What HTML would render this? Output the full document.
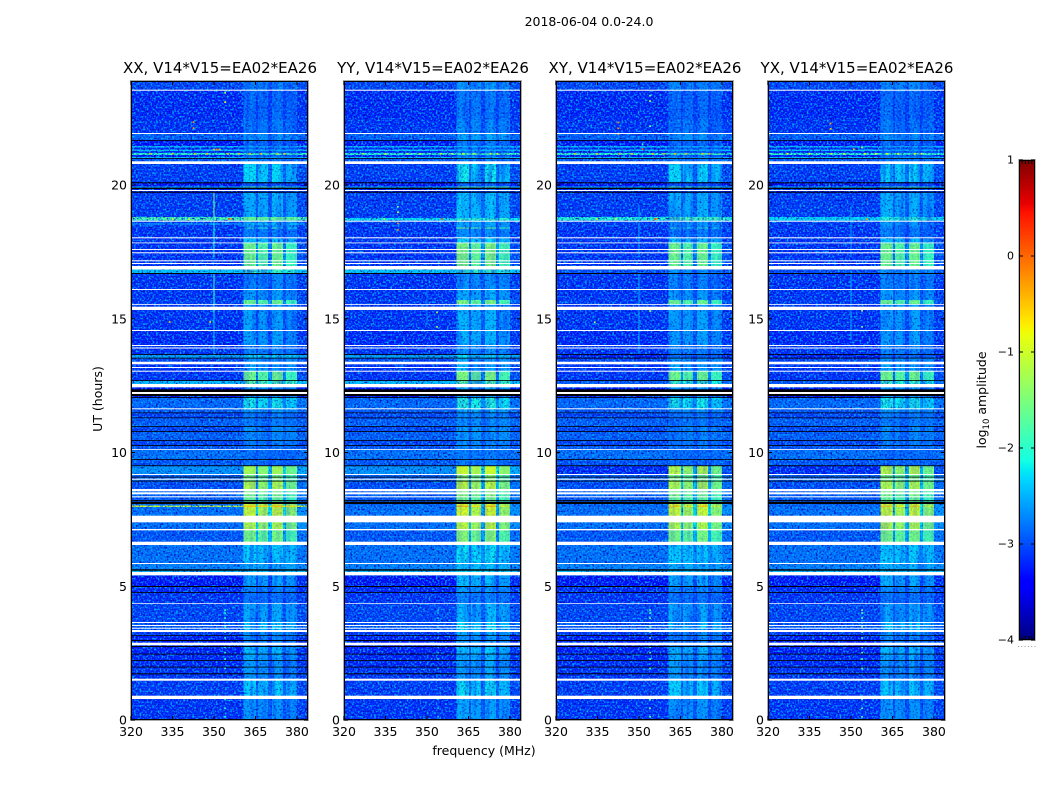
<!DOCTYPE html>
<html lang="en">
<head>
<meta charset="utf-8">
<title>2018-06-04 amplitude waterfall</title>
<style>
html,body{margin:0;padding:0;background:#fff;width:1050px;height:800px;overflow:hidden}
svg{display:block}
text{font-family:"DejaVu Sans","Liberation Sans",sans-serif;fill:#000}
</style>
</head>
<body>
<svg id="fig" width="1050" height="800" viewBox="0 0 1050 800" xmlns="http://www.w3.org/2000/svg">
  <defs>
    <filter id="speckle" x="0" y="0" width="100%" height="100%" color-interpolation-filters="sRGB">
      <feTurbulence type="fractalNoise" baseFrequency="0.55" numOctaves="1" seed="7" result="n"/>
      <feColorMatrix in="n" result="bright" values="0 0 0 0 0  0 0 0 0 .68  0 0 0 0 1  4 0 0 0 -1.9"/>
      <feColorMatrix in="n" result="dark" values="0 0 0 0 0  0 0 0 0 .05  0 0 0 0 .7  0 4 0 0 -2"/>
      <feMerge><feMergeNode in="dark"/><feMergeNode in="bright"/></feMerge>
    </filter>
    <filter id="streaks" x="0" y="0" width="100%" height="100%" color-interpolation-filters="sRGB">
      <feTurbulence type="fractalNoise" baseFrequency="0.22 0.02" numOctaves="2" seed="11" result="s"/>
      <feColorMatrix in="s" values="0 0 0 0 0  0 0 0 0 .15  0 0 0 0 1  3 0 0 0 -1.3"/>
    </filter>
  </defs>
  <rect width="1050" height="800" fill="#fff"/>
  <text x="589" y="26" text-anchor="middle" font-size="12.5">2018-06-04 0.0-24.0</text>
  <g id="panel-0"></g>
  <g id="panel-1"></g>
  <g id="panel-2"></g>
  <g id="panel-3"></g>
  <text x="220" y="73" text-anchor="middle" font-size="15">XX, V14*V15=EA02*EA26</text>
  <text x="433" y="73" text-anchor="middle" font-size="15">YY, V14*V15=EA02*EA26</text>
  <text x="645" y="73" text-anchor="middle" font-size="15">XY, V14*V15=EA02*EA26</text>
  <text x="857" y="73" text-anchor="middle" font-size="15">YX, V14*V15=EA02*EA26</text>
  <text x="484" y="755" text-anchor="middle" font-size="12.5">frequency (MHz)</text>
  <text transform="translate(102 399) rotate(-90)" text-anchor="middle" font-size="12.5">UT (hours)</text>
  <g id="colorbar"></g>
  <text transform="translate(986 400) rotate(-90)" text-anchor="middle" font-size="12.5">log<tspan font-size="8.5" dy="3">10</tspan><tspan dy="-3"> amplitude</tspan></text>
</svg>
<script>
// ---------- axis tick values ----------
const freqTicks = [320, 335, 350, 365, 380];
const hourTicks = [0, 5, 10, 15, 20];
const colorTicks = [-4, -3, -2, -1, 0, 1];

// ---------- frequency structure (MHz) ----------
const freqEdges = [320, 360.6, 365.2, 366, 369.5, 371, 374.9, 376, 380, 384];
const freqPatchWeight = [0, 1, 0.35, 0.9, 0.35, 1, 0.35, 0.8, 0.1];

// ---------- time bands: top hour, log10 amplitude below 360 MHz, log10 amplitude in the 361-380 MHz patch ----------
const bandTop = [23.9,23.53,22.44,21.94,21.66,21.45,21.4,21.32,21.28,21.2,21.13,21.05,21.0,20.78,20.12,19.95,19.9,19.71,18.8,18.63,18.45,18.0,17.85,16.97,16.67,16.08,15.7,15.55,14.54,13.98,13.65,13.54,13.3,13.02,12.68,12.43,12.04,11.61,11.47,11.28,10.96,10.77,10.44,10.25,10.1,9.73,9.49,9.16,8.92,8.64,8.33,8.07,8.02,7.96,7.39,7.09,6.54,5.83,5.58,5.41,4.97,4.75,4.33,3.66,3.29,3.14,2.73,2.45,2.21,1.96,1.47,0.785];
const bandBase = [-3.1,-3.25,-3.2,-2.95,-3.35,-2.4,-3.3,-2.35,-3.2,-1.95,-3.3,-2.4,-3.0,-3.15,-3.4,-2.4,-3.3,-3.15,-3.1,-3.15,-3.2,-3.2,-3.2,-3.05,-3.2,-3.2,-3.15,-3.2,-3.25,-3.2,-3.3,-3.1,-3.2,-3.2,-3.0,-3.4,-2.9,-3.0,-3.1,-2.95,-3.1,-2.95,-3.1,-3.0,-2.85,-3.0,-3.25,-2.95,-3.05,-2.95,-3.0,-2.9,-2.9,-2.85,-2.85,-3.0,-2.85,-2.75,-2.4,-3.35,-3.25,-3.2,-3.1,-3.0,-3.15,-3.3,-3.3,-3.25,-3.25,-3.2,-3.15,-3.2];
const bandPatch = [-2.7,-2.85,-2.75,-2.6,-2.85,-2.5,-2.9,-2.5,-2.85,-1.9,-2.85,-2.6,-2.75,-2.25,-3.0,-1.7,-3.0,-2.45,-2.45,-2.6,-2.75,-2.35,-1.55,-2.6,-2.7,-2.55,-1.55,-2.55,-2.55,-2.7,-2.85,-2.6,-2.5,-1.55,-1.9,-2.6,-2.1,-2.6,-2.75,-2.75,-2.65,-2.7,-2.75,-2.8,-2.85,-2.85,-1.1,-1.5,-1.15,-1.5,-1.6,-0.95,-0.55,-1.0,-1.15,-1.5,-2.3,-2.45,-2.3,-2.5,-2.7,-2.8,-2.5,-2.3,-2.6,-2.7,-2.4,-2.5,-2.6,-2.6,-2.3,-2.6];
const panelPatchOffset = [0, 0.1, 0, 0];

// ---------- panel-specific rows: panel index, top hour, bottom hour, base, patch ----------
const panelRows = [
  [0,18.8,18.67,-1.75,-1.6],[1,18.76,18.67,-2.2,-1.9],[2,18.8,18.67,-2.0,-1.8],[3,18.8,18.67,-2.25,-2.0],
  [0,18.56,18.52,-2.4,-2.2],[1,18.41,18.37,-3.2,-1.5],[0,18.41,18.37,-3.2,-1.9],[2,18.41,18.37,-3.2,-1.9],
  [0,16.84,16.7,-2.35,-1.9],[1,16.84,16.7,-2.35,-1.9],
  [0,13.65,13.54,-2.55,-2.2],[1,13.65,13.54,-2.55,-2.2],
  [0,12.68,12.56,-2.4,-1.7],[1,12.68,12.56,-2.4,-1.7],
  [0,9.49,9.2,-2.65,-1.3],[1,9.49,9.2,-2.65,-1.0],
  [0,8.02,7.96,-0.95,-0.5]
];

// ---------- flagged rows (hours) ----------
const whiteFlags = [[23.563,23.525],[21.944,21.907],[20.886,20.785],[19.813,19.776],[18.666,18.628],[18.045,18.007],[17.85,17.82],[17.607,17.57],[17.484,17.447],[17.185,17.148],[17.084,17.047],[16.972,16.841],[16.112,16.075],[15.551,15.521],[15.45,15.327],[14.579,14.542],[14.019,13.981],[13.925,13.888],[13.394,13.297],[13.196,13.159],[13.058,13.021],[12.561,12.437],[12.262,12.187],[11.652,11.615],[10.131,10.101],[9.196,9.159],[9.021,8.983],[8.636,8.55],[8.512,8.437],[8.363,8.325],[7.637,7.39],[7.14,7.09],[6.665,6.542],[5.869,5.832],[5.533,5.409],[4.363,4.336],[3.664,3.626],[3.551,3.514],[3.45,3.413],[3.364,3.29],[2.89,2.793],[1.544,1.469],[0.908,0.785]];
const blackFlags = [[21.682,21.652],[21.009,20.98],[20.101,20.064],[19.899,19.85],[19.75,19.712],[16.71,16.673],[13.682,13.652],[13.544,13.514],[12.71,12.68],[12.363,12.262],[12.187,12.112],[12.075,12.045],[11.495,11.469],[11.308,11.282],[10.99,10.961],[10.804,10.774],[10.467,10.437],[10.28,10.25],[9.757,9.727],[9.521,9.488],[9.095,9.065],[8.946,8.916],[8.224,8.194],[8.161,8.075],[5.634,5.581],[5.009,4.972],[4.785,4.755],[3.166,3.14],[2.991,2.953],[2.766,2.729],[2.479,2.449],[2.243,2.213],[1.993,1.963],[1.746,1.708]];

// ---------- narrow interference: panel index, MHz, top hour, bottom hour, level ----------
const vertical350 = [
  [0,350,19.71,18.8,-1.5],[0,350,18.6,17.3,-2.1],[0,350,16.67,15.2,-1.9],[0,350,15.2,13.6,-2.4],
  [1,350,16.2,14.8,-2.75],
  [2,350,19.2,18.7,-2.5],[2,350,18.6,17.3,-2.55],[2,350,16.67,13.7,-2.5],
  [3,350,19.2,18.7,-2.55],[3,350,18.6,17.3,-2.6],[3,350,16.67,14.2,-2.55]
];
const dots354Hours = [4.11,4.0,3.81,3.64,3.49,3.29,3.07,2.73,2.52,2.28,1.93,0.77,0.44,0.12];
const dots354Level = [-2.0, -2.4, -1.7, -1.6];
const rfi2120Freqs = [327,335,343,347.5,355,359,363,367,373,375.5];
const rfi2120Level = [-0.5, -1.0, -0.4, -0.8];
const hotSpots = [
  [0,351,21.33,-0.2],[0,350,21.33,-0.5],[0,352,21.33,-0.5],[0,355.5,18.73,0.1],[0,356,18.73,-0.3],[0,335,18.73,-1.0],[0,341,18.73,-1.0],
  [0,342.6,22.35,-0.2],[0,342.6,22.13,-0.2],[0,354,23.45,-1.3],[0,354,23.1,-1.0],[0,334,14.88,-0.3],[0,348.6,14.88,-0.6],
  [1,355.4,18.73,0.2],[1,339.5,19.19,-1.3],[1,339.5,18.98,-1.0],[1,339.5,18.57,-0.2],[1,339.5,18.32,-0.2],[1,334.5,18.73,-1.0],[1,353.6,15.24,-1.2],[1,353.6,14.7,-1.2],
  [2,355.8,18.73,0.2],[2,356.4,18.73,-0.3],[2,334.7,18.73,-0.9],[2,341.6,18.73,-1.0],[2,342.5,22.34,-0.2],[2,342.5,22.12,-0.2],[2,342.5,21.9,-0.2],
  [2,354,23.34,-1.5],[2,354,23.14,-0.9],[2,354,22.2,-1.5],[2,351.3,21.53,-1.8],[2,351.3,21.34,0],[2,334,14.87,-1.2],[2,354,15.29,-1.2],
  [3,342.6,22.3,-0.4],[3,342.6,22.1,-0.4],[3,355.8,18.73,-0.3],[3,354,15.3,-1.2],[3,354,14.7,-1.4],[3,354,21.4,-1.2],[3,351,21.34,-0.4]
];

// ---------- scales ----------
const panelLeft = [131, 344, 556, 768];
const panelWidth = 177;
const freqMin = 320, freqMax = 384;
const plotBottom = 720, pixelsPerHour = 26.75, plotTop = 81;
const xScale = (p, mhz) => panelLeft[p] + (mhz - freqMin) / (freqMax - freqMin) * panelWidth;
const yScale = h => plotBottom - h * pixelsPerHour;

function lerp(stops, t) {
  for (let i = 1; i < stops.length; i++) {
    if (t <= stops[i][0]) {
      const a = stops[i - 1], b = stops[i];
      return a[1] + (b[1] - a[1]) * (t - a[0]) / (b[0] - a[0]);
    }
  }
  return stops[stops.length - 1][1];
}
const jetR = [[0,0],[0.35,0],[0.66,1],[0.89,1],[1,0.5]];
const jetG = [[0,0],[0.125,0],[0.375,1],[0.64,1],[0.91,0],[1,0]];
const jetB = [[0,0.5],[0.11,1],[0.34,1],[0.65,0],[1,0]];
function jet(level) {
  const t = Math.max(0, Math.min(1, (level + 4) / 5));
  return 'rgb(' + Math.round(255 * lerp(jetR, t)) + ',' + Math.round(255 * lerp(jetG, t)) + ',' + Math.round(255 * lerp(jetB, t)) + ')';
}

const NS = 'http://www.w3.org/2000/svg';
function make(parent, tag, geometry) {
  const el = document.createElementNS(NS, tag);
  for (const k in geometry) el.setAttribute(k, geometry[k]);
  parent.appendChild(el);
  return el;
}
function fillBand(g, p, top, bottom, base, patch) {
  for (let f = 0; f < freqPatchWeight.length; f++) {
    const x0 = xScale(p, freqEdges[f]), x1 = xScale(p, freqEdges[f + 1]);
    const level = base + (patch - base) * freqPatchWeight[f];
    const cell = make(g, 'rect', {x: x0, y: yScale(top), width: x1 - x0, height: yScale(bottom) - yScale(top), fill: jet(level), 'shape-rendering': 'crispEdges'});
    
    
  }
}
// bright rows read as nearly solid blocks: repaint their patch columns over the textures
function smoothBright(g, p, top, bottom, base, patch) {
  if (patch <= -1.7) return;
  for (let f = 0; f < freqPatchWeight.length; f++) {
    if (freqPatchWeight[f] < 0.8) continue;
    const x0 = xScale(p, freqEdges[f]), x1 = xScale(p, freqEdges[f + 1]);
    const level = base + (patch - base) * freqPatchWeight[f];
    const cell = make(g, 'rect', {x: x0, y: yScale(top), width: x1 - x0, height: yScale(bottom) - yScale(top), fill: jet(level), opacity: 0.6, 'shape-rendering': 'crispEdges'});
    
    
  }
}
function drawSpot(g, p, mhz, hour, level) {
  const spot = make(g, 'rect', {x: xScale(p, mhz) - 0.8, y: yScale(hour) - 0.8, width: 1.7, height: 1.7, fill: jet(level)});
  
  
}

for (let p = 0; p < panelLeft.length; p++) {
  const g = document.getElementById('panel-' + p);
  // heat map bands
  for (let b = 0; b < bandTop.length; b++) {
    const bottom = b + 1 < bandTop.length ? bandTop[b + 1] : 0;
    fillBand(g, p, bandTop[b], bottom, bandBase[b], bandPatch[b] + panelPatchOffset[p]);
  }
  panelRows.filter(r => r[0] === p).forEach(r => fillBand(g, p, r[1], r[2], r[3], r[4]));
  // fine-grain textures (decorative)
  const patchX0 = xScale(p, 360.6), patchX1 = xScale(p, 380);
  const streak = make(g, 'rect', {x: patchX0, y: plotTop, width: patchX1 - patchX0, height: plotBottom - plotTop, filter: 'url(#streaks)', opacity: 0.5});
  
  
  const noiseA = make(g, 'rect', {x: panelLeft[p], y: plotTop, width: patchX0 - panelLeft[p], height: plotBottom - plotTop, filter: 'url(#speckle)'});
  
  
  const noiseB = make(g, 'rect', {x: patchX0, y: plotTop, width: patchX1 - patchX0, height: plotBottom - plotTop, filter: 'url(#speckle)', opacity: 0.7});
  
  
  const noiseC = make(g, 'rect', {x: patchX1, y: plotTop, width: panelLeft[p] + panelWidth - patchX1, height: plotBottom - plotTop, filter: 'url(#speckle)'});
  
  
  for (let b = 0; b < bandTop.length; b++) {
    const bottom = b + 1 < bandTop.length ? bandTop[b + 1] : 0;
    smoothBright(g, p, bandTop[b], bottom, bandBase[b], bandPatch[b] + panelPatchOffset[p]);
  }
  panelRows.filter(r => r[0] === p).forEach(r => smoothBright(g, p, r[1], r[2], r[3], r[4]));
  // narrow interference
  vertical350.filter(v => v[0] === p).forEach(v => {
    const line = make(g, 'rect', {x: xScale(p, v[1]) - 0.5, y: yScale(v[2]), width: 1, height: yScale(v[3]) - yScale(v[2]), fill: jet(v[4])});
    
    
  });
  dots354Hours.forEach(h => drawSpot(g, p, 354, h, dots354Level[p]));
  rfi2120Freqs.forEach(m => drawSpot(g, p, m, 21.17, rfi2120Level[p]));
  hotSpots.filter(s => s[0] === p).forEach(s => drawSpot(g, p, s[1], s[2], s[3]));
  // flagged rows
  whiteFlags.forEach(fl => {
    const r = make(g, 'rect', {x: panelLeft[p], y: yScale(fl[0]), width: panelWidth, height: yScale(fl[1]) - yScale(fl[0]), fill: '#fff'});
    
    
  });
  blackFlags.forEach(fl => {
    const r = make(g, 'rect', {x: panelLeft[p], y: yScale(fl[0]), width: panelWidth, height: yScale(fl[1]) - yScale(fl[0]), fill: '#000'});
    
    
  });
  // frame
  const outer = make(g, 'rect', {x: panelLeft[p] - 0.5, y: plotTop - 0.5, width: panelWidth + 1, height: plotBottom - plotTop + 1, fill: 'none', stroke: '#aaa', 'stroke-width': 1});
  
  
  const frame = make(g, 'rect', {x: panelLeft[p] + 0.5, y: plotTop + 0.5, width: panelWidth - 1, height: plotBottom - plotTop - 1, fill: 'none', stroke: '#000', 'stroke-width': 1});
  
  
  // x ticks
  freqTicks.forEach(m => {
    const x = xScale(p, m);
    const t1 = make(g, 'line', {x1: x, x2: x, y1: plotBottom, y2: plotBottom - 4, stroke: '#000'});
    
    
    const t2 = make(g, 'line', {x1: x, x2: x, y1: plotTop, y2: plotTop + 4, stroke: '#000'});
    
    
    const lab = make(g, 'text', {x: x, y: 736, 'text-anchor': 'middle', 'font-size': 12.5});
    lab.textContent = String(m);
    
    
  });
  // y ticks
  hourTicks.forEach(h => {
    const y = yScale(h);
    const t1 = make(g, 'line', {x1: panelLeft[p], x2: panelLeft[p] + 4, y1: y, y2: y, stroke: '#000'});
    
    
    const t2 = make(g, 'line', {x1: panelLeft[p] + panelWidth, x2: panelLeft[p] + panelWidth - 4, y1: y, y2: y, stroke: '#000'});
    
    
    const lab = make(g, 'text', {x: panelLeft[p] - 4, y: y + 4.5, 'text-anchor': 'end', 'font-size': 12.5});
    lab.textContent = String(h);
    
    
  });
}

// ---------- colour bar ----------
const cbar = document.getElementById('colorbar');
const cbLeft = 1019, cbWidth = 16, cbTop = 160, cbBottom = 640;
const cbY = v => cbBottom - (v + 4) / 5 * (cbBottom - cbTop);
for (let v = -4; v < 1; v += 0.02) {
  const s = make(cbar, 'rect', {x: cbLeft, y: cbY(v + 0.02), width: cbWidth, height: cbY(v) - cbY(v + 0.02) + 0.4, fill: jet(v + 0.01)});
  
  
}
const cbShadow = make(cbar, 'rect', {x: cbLeft - 0.5, y: cbTop - 0.5, width: cbWidth + 1, height: cbBottom - cbTop + 1, fill: 'none', stroke: '#bbb'});


const cbFrame = make(cbar, 'rect', {x: cbLeft + 0.5, y: cbTop + 0.5, width: cbWidth - 1, height: cbBottom - cbTop - 1, fill: 'none', stroke: '#000'});


colorTicks.forEach(v => {
  const y = cbY(v);
  const a = make(cbar, 'line', {x1: cbLeft, x2: cbLeft + 4, y1: y, y2: y, stroke: '#000'});
  
  
  const b = make(cbar, 'line', {x1: cbLeft + cbWidth, x2: cbLeft + cbWidth - 4, y1: y, y2: y, stroke: '#000'});
  
  
  const lab = make(cbar, 'text', {x: 1014, y: y + 3.5, 'text-anchor': 'end', 'font-size': 11});
  lab.textContent = String(v).replace('-', '\u2212');
  
  
});
for (let i = 1; i < 5; i++) {
  const x = cbLeft + i * cbWidth / 5;
  const top = make(cbar, 'line', {x1: x, x2: x, y1: cbTop, y2: cbTop + 4, stroke: '#000'});
  
  
  const bot = make(cbar, 'line', {x1: x, x2: x, y1: cbBottom, y2: cbBottom - 4, stroke: '#000'});
  
  
}
for (let i = 0; i < 6; i++) {
  const d = make(cbar, 'rect', {x: 1018 + i * 3.3, y: 646, width: 1, height: 1, fill: '#999'});
  
  
}
</script>
</body>
</html>
